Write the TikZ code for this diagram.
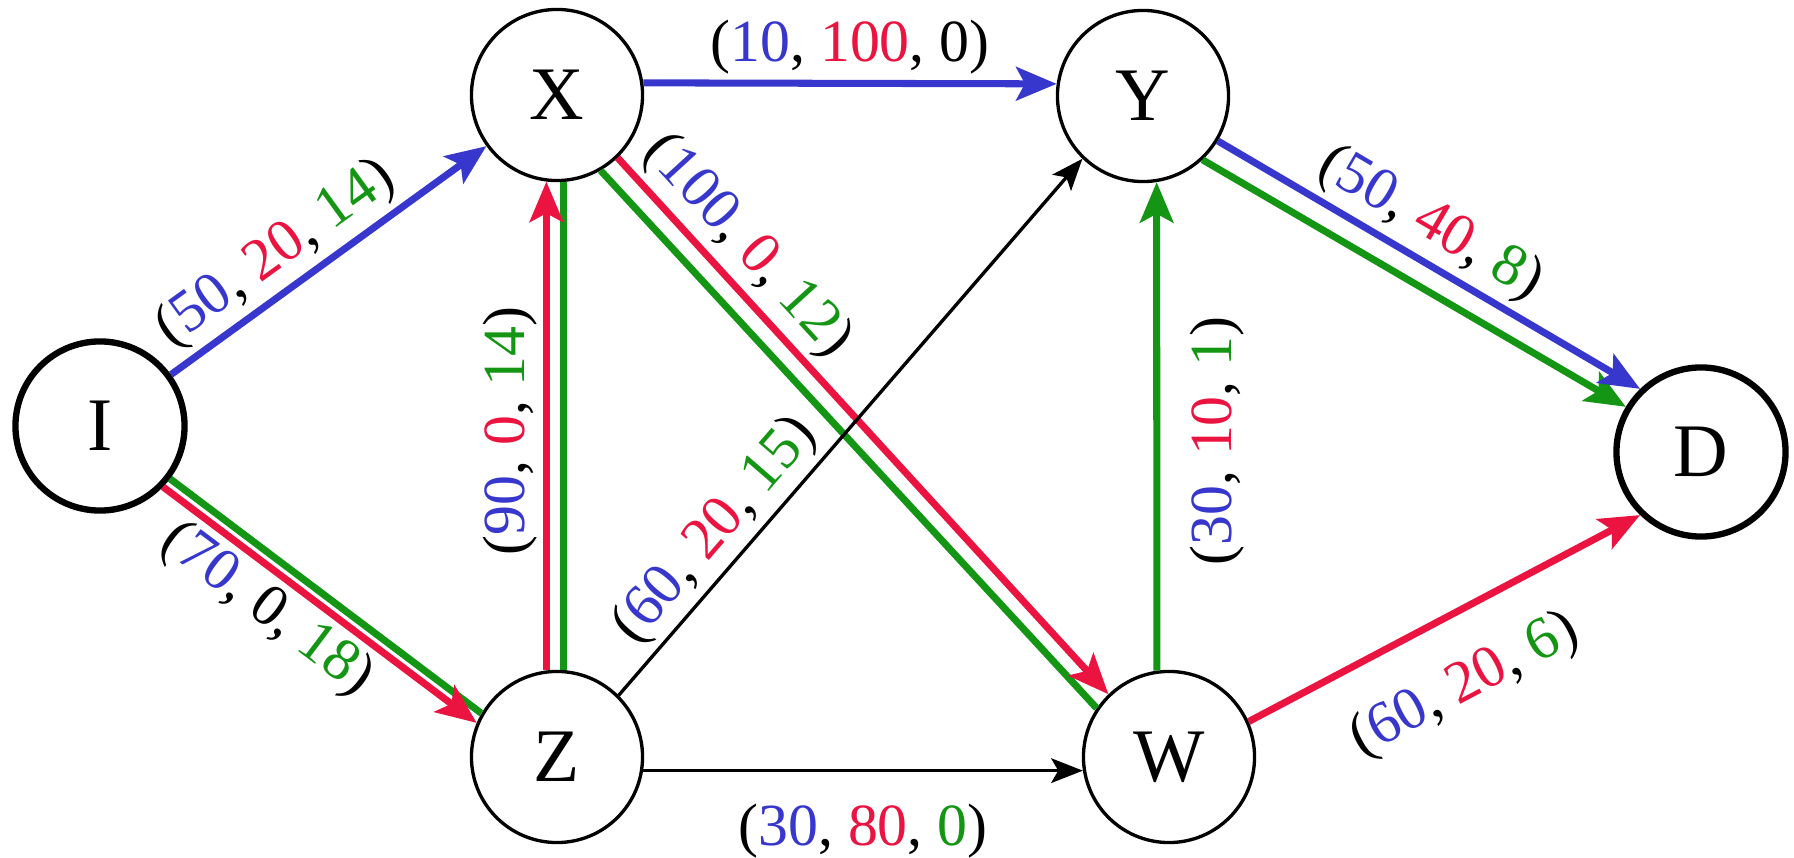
\documentclass[tikz,border=0pt]{standalone}
\usepackage{fontspec}
\setmainfont{Liberation Serif}
\usetikzlibrary{arrows.meta}
\definecolor{cblue}{RGB}{55,55,205}
\definecolor{cred}{RGB}{235,20,65}
\definecolor{cgreen}{RGB}{20,150,20}
\newcommand\vb[1]{\textcolor{cblue}{#1}}
\newcommand\vr[1]{\textcolor{cred}{#1}}
\newcommand\vg[1]{\textcolor{cgreen}{#1}}
\begin{document}
\begin{tikzpicture}[x=0.01cm,y=-0.01cm,
  state/.style={circle, draw=black, line width=0.95pt, minimum size=1.71cm, inner sep=0pt, font=\fontsize{21.5}{24}\selectfont},
  thickstate/.style={state, line width=1.8pt, minimum size=1.69cm},
  cedge/.style={line width=2pt},
  carrow/.style={cedge, -{Stealth[length=11.5pt,width=9.5pt,inset=2.5pt]}},
  bedge/.style={line width=0.95pt, -{Stealth[length=9pt,width=7pt,inset=2pt]}},
  lab/.style={font=\fontsize{17}{20}\selectfont, inner sep=1.5pt}]
\useasboundingbox (0,0) rectangle (1794,858);

\node[thickstate] (I) at (100,426) {I};
\node[state] (X) at (557,95) {X};
\node[state] (Y) at (1143,96) {Y};
\node[state] (Z) at (557,757) {Z};
\node[state] (W) at (1169,757) {W};
\node[thickstate] (D) at (1701,452) {D};

% I -> X
\draw[carrow, cblue] (I) -- (X)
  node[lab, pos=0.4, above, sloped, text=black] {(\vb{50}, \vr{20}, \vg{14})};

% I -> Z
\draw[cedge, cgreen] (I.-37) -- (Z.150);
\draw[carrow, cred] (I.-44) -- (Z.157)
  node[lab, pos=0.4, below, sloped, text=black] {(\vb{70}, 0, \vg{18})};

% Z -> X
\draw[cedge, cgreen] (Z.86) -- (X.-86);
\draw[carrow, cred] (Z.97) -- (X.-97)
  node[lab, pos=0.49, anchor=south, rotate=90, text=black] {(\vb{90}, \vr{0}, \vg{14})};

% X -> W
\draw[cedge, cgreen] (X.-60) -- (W.146);
\draw[carrow, cred] (X.-46) -- (W.134)
  node[lab, pos=0.21, above, sloped, text=black] {(\vb{100}, \vr{0}, \vg{12})};

% X -> Y
\draw[carrow, cblue] (X.8) -- (Y.172)
  node[lab, midway, above, text=black] {(\vb{10}, \vr{100}, 0)};

% Z -> Y
\draw[bedge] (Z.45) -- (Y.-134)
  node[lab, pos=0.25, above, sloped, xshift=3pt] {(\vb{60}, \vr{20}, \vg{15})};

% Z -> W
\draw[bedge] (Z.-9) -- (W.-171)
  node[lab, midway, below, yshift=-7.5pt] {(\vb{30}, \vr{80}, \vg{0})};

% W -> Y
\draw[carrow, cgreen] (W.98) -- (Y.-81)
  node[lab, pos=0.47, anchor=north, rotate=90, text=black, yshift=-7pt] {(\vb{30}, \vr{10}, \vg{1})};

% Y -> D
\draw[carrow, cgreen] (Y.-47) -- (D.149);
\draw[carrow, cblue] (Y.-31) -- (D.134)
  node[lab, pos=0.46, above, sloped, text=black] {(\vb{50}, \vr{40}, \vg{8})};

% W -> D
\draw[carrow, cred] (W.24) -- (D.-134)
  node[lab, pos=0.47, below, sloped, text=black, yshift=-9.5pt] {(\vb{60}, \vr{20}, \vg{6})};
\end{tikzpicture}
\end{document}
